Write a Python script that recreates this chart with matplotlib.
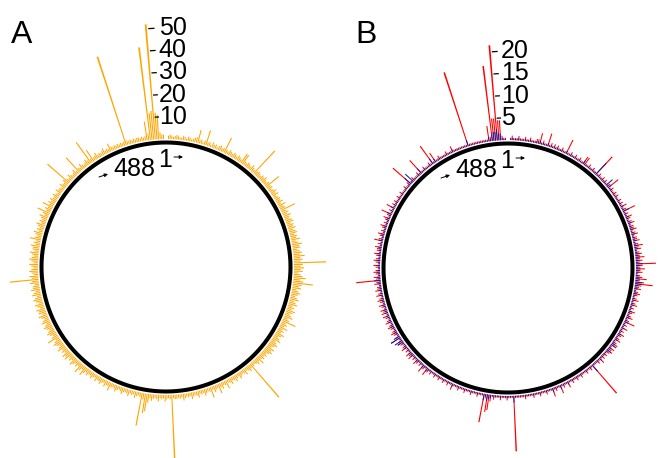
import numpy as np
import matplotlib

matplotlib.use("Agg")
import matplotlib.pyplot as plt

plt.rcParams["font.family"] = ["Liberation Sans", "DejaVu Sans"]

# positions around the circle (1 at the top, clockwise to 488)
n_pos = 488

# panel A: single series (orange)
counts_a = [
    0, 1.5, 2, 1.5, 1, 1.5, 2, 1.5, 1, 1, 2, 1.5, 1, 2, 1.5, 1, 1.5, 2, 2.5, 6,
    1.5, 2, 1, 2, 7, 1.5, 2, 1, 2.5, 1.5, 2, 1, 2, 2.5, 1.5, 2, 7.5, 2, 1.5, 2.5,
    2, 1.5, 2.5, 2, 1.5, 2.5, 2, 1.5, 5, 5, 2, 1.5, 2.5, 2, 1.5, 3, 2, 1.5, 14, 2,
    2.5, 2, 1.5, 2.5, 2, 3, 2, 1.5, 2.5, 7.5, 2, 2.5, 1.5, 2, 3, 2, 3, 1.5, 2, 2.5,
    2, 3, 1.5, 3.5, 2, 2.5, 7, 2, 3, 2, 3.5, 2.5, 2, 3, 3.5, 2, 3, 2.5, 3.5, 2,
    3, 3.5, 2, 3, 2.5, 4, 2, 3, 4.5, 3, 3.5, 2, 3, 4, 3, 5, 3, 4, 3, 14.5,
    4, 3, 4.5, 3, 4, 2, 3, 4, 5.5, 3, 4.5, 9, 4, 3, 4, 2, 3, 4, 3, 2,
    3, 4, 2, 3, 4, 2, 3, 2, 4, 3, 2, 3, 4, 2, 3, 6.5, 2, 3, 2, 4,
    2, 3, 2, 4, 3, 2, 3, 4, 2, 3, 4, 3, 2, 4, 3, 4, 3, 2, 3, 2,
    3, 2, 4, 2, 3, 2, 1.5, 2, 20, 2, 3, 2, 1.5, 3, 2, 1.5, 2, 3, 1.5, 2,
    3, 2, 1.5, 3, 2, 1.5, 4, 2, 1.5, 3, 2, 4.5, 1.5, 2, 3, 1.5, 5, 2, 1.5, 2,
    3, 1.5, 2, 1.5, 3, 2, 1.5, 2, 3, 1.5, 2, 1.5, 2, 3, 1.5, 2, 1.5, 2, 2, 1.5,
    29, 2, 1.5, 2, 3, 1.5, 2, 1.5, 3, 2, 1.5, 2, 3, 2, 4, 8, 9, 3, 15, 2,
    1.5, 2, 3, 1.5, 2, 1.5, 3, 2, 1.5, 2, 3, 2, 1.5, 2, 3, 2, 1.5, 2, 4, 2,
    2, 3, 1.5, 2, 3, 2, 2, 3, 1.5, 2, 3, 2, 2, 3, 2, 3, 4.5, 2, 3, 5,
    2, 3, 2, 3, 4, 2, 3, 2, 4, 3, 4, 2, 3, 2, 4, 3, 2, 3, 4, 3,
    2, 5.5, 3, 2, 3, 4, 3, 2, 3, 4, 3, 2, 4, 3, 2, 3, 4, 2, 3.5, 3,
    4, 2, 3, 4, 2, 3, 4, 3, 2, 4, 3, 2, 4, 3, 3, 2, 4, 3, 13, 3,
    4, 2, 3, 4, 3, 2, 3, 4, 2, 3, 4, 3, 2, 3, 4, 2, 3, 3, 4, 2,
    3, 2, 5, 3, 2, 3, 4, 2, 3, 2, 3, 4, 2, 3, 2, 3, 4, 2, 3, 6,
    2, 3, 2, 5, 2, 3, 2, 3, 2, 2, 3, 2, 1.5, 3, 2, 2, 1.5, 3, 2, 2,
    3, 13, 2, 1.5, 3, 2, 1.5, 2, 3, 1.5, 9, 2, 1.5, 3, 2, 1.5, 2, 3, 2, 11.5,
    2, 6, 1.5, 2, 3, 1.5, 2, 1.5, 2, 3, 1.5, 2, 1.5, 3.8, 2, 1.5, 2, 1.5, 2, 1.5,
    2, 1.5, 2, 42, 2, 1.5, 2, 1.5, 2, 1.5, 2, 2, 1.5, 2, 1.5, 2, 8.5, 3, 42, 12,
    13, 52, 12, 11, 3, 2, 2, 0,
]

# panel B: red series
counts_b_red = [
    0, .5, 1, .5, .5, .5, 1, .5, .5, .5, 1, .5, .5, 1, .5, .5, .5, 1, 1, 2.5,
    .5, 1, .5, .5, 3, .5, 1, .5, 1, .5, 1, .5, .5, 1, .5, .5, 3.5, .5, .5, 1,
    .5, .5, 1, .5, .5, 1, .5, .5, 2, 2, .5, .5, 1, .5, .5, 1, .5, .5, 5.5, .5,
    1, .5, .5, 1, .5, 1, .5, .5, 1, 3, .5, 1, .5, .5, 1, .5, 1, .5, .5, 1,
    .5, 1, .5, 1.5, .5, 1, 3, .5, 1, .5, 1.5, 1, .5, 1, 1.5, .5, 1, 1, 1.5, .5,
    1, 1.5, .5, 1, 1, 1.5, .5, 1, 2, 1, 1.5, .5, 1, 1.5, 1, 2, 1, 1.5, 1, 4.5,
    1.5, 1, 2, 1, 1.5, .5, 1, 1.5, 2.5, 1, 2, 4, 1.5, 1, 1.5, .5, 1, 1.5, 1, .5,
    1, 1.5, .5, 1, 1.5, .5, 1, .5, 1.5, 1, .5, 1, 1.5, .5, 1, 2.5, .5, 1, .5, 1.5,
    .5, 1, .5, 1.5, 1, .5, 1, 1.5, .5, 1, 1.5, 1, .5, 1.5, 1, 1.5, 1, .5, 1, .5,
    1, .5, 1.5, .5, 1, .5, .5, .5, 8.5, .5, 1, .5, .5, 1, .5, .5, .5, 1, .5, .5,
    1, .5, .5, 1, .5, .5, 1.5, .5, .5, 1, .5, 2, .5, .5, 1, .5, 2, .5, .5, .5,
    1, .5, .5, .5, 1, .5, .5, .5, 1, .5, .5, .5, .5, 1, .5, .5, .5, .5, .5, .5,
    12.5, .5, .5, .5, 1, .5, .5, .5, 1, .5, .5, .5, 1, .5, 1.5, 3.5, 4, 1, 6.5, .5,
    .5, .5, 1, .5, .5, .5, 1, .5, .5, .5, 1, .5, .5, .5, 1, .5, .5, .5, 1.5, .5,
    .5, 1, .5, .5, 1, .5, .5, 1, .5, .5, 1, .5, .5, 1, .5, 1, 2, .5, 1, 2,
    .5, 1, .5, 1, 1.5, .5, 1, .5, 1.5, 1, 1.5, .5, 1, .5, 1.5, 1, .5, 1, 1.5, 1,
    .5, 2.5, 1, .5, 1, 1.5, 1, .5, 1, 1.5, 1, .5, 1.5, 1, .5, 1, 1.5, .5, 1.5, 1,
    1.5, .5, 1, 1.5, .5, 1, 1.5, 1, .5, 1.5, 1, .5, 1.5, 1, 1, .5, 1.5, 1, 5.5, 1,
    1.5, .5, 1, 1.5, 1, .5, 1, 1.5, .5, 1, 1.5, 1, .5, 1, 1.5, .5, 1, 1, 1.5, .5,
    1, .5, 2, 1, .5, 1, 1.5, .5, 1, .5, 1, 1.5, .5, 1, .5, 1, 1.5, .5, 1, 2.5,
    .5, 1, .5, 2, .5, 1, .5, 1, .5, .5, 1, .5, .5, 1, .5, .5, .5, 1, .5, .5,
    1, 5.5, .5, .5, 1, .5, .5, .5, 1, .5, 4, .5, .5, 1, .5, .5, .5, 1, .5, 5,
    .5, 2.5, .5, .5, 1, .5, .5, .5, .5, 1, .5, .5, .5, 1.5, .5, .5, .5, .5, .5, .5,
    .5, .5, .5, 17.5, .5, .5, .5, .5, .5, .5, .5, .5, .5, .5, .5, .5, 3.5, 1, 17, 5,
    5, 21.5, 4.5, 4.5, 1, .5, .5, 0,
]

# panel B: blue series
counts_b_blue = [
    0, .3, .5, .3, .3, .3, .5, .3, .3, .3, .5, .3, .3, .5, .3, .3, .3, .5, .5, .8,
    .3, .5, .3, .3, .8, .3, .5, .3, .5, .3, .5, .3, .3, .5, .3, .3, .8, .3, .3, .5,
    .3, .3, .5, .3, .3, .5, .3, .3, 1, .5, .3, .3, .5, .3, .3, .5, .3, .5, 3.5, .3,
    .5, .3, .3, .5, .3, .5, .3, 2, .5, 1, .3, .5, .3, .3, .5, .3, .5, .3, .3, .5,
    .3, .5, .3, .8, .3, .5, 1.5, .3, .5, .3, .8, .5, .3, .5, .8, .3, .5, .5, .8, .3,
    .5, .8, .3, .5, .5, .8, .3, .5, 1, .5, .8, .3, .5, .8, .5, 1, .5, .8, .5, 1.6,
    .8, .5, 1, .5, .8, .3, .5, .8, 1, .5, 1.5, 1.5, .8, .5, .8, .3, .5, .8, .5, .3,
    .5, .8, .3, .5, .8, .3, .5, .3, .8, .5, .3, .5, .8, .3, .5, 1, .3, .5, .3, .8,
    .3, .5, .3, .8, .5, .3, .5, .8, .3, .5, .8, 1.5, .3, .8, .5, 1.2, .5, .3, .5, .3,
    .5, .3, .8, .3, .5, .3, .3, .3, 2, .3, .5, .3, .3, .5, .3, .3, .3, .5, .3, .3,
    .5, .3, .3, .5, .3, .3, .8, .3, .3, .5, .3, 1, .3, .3, .5, .3, 1, .3, .3, .3,
    .5, .3, .3, .3, .5, .3, .3, .3, .5, .3, .3, .3, .3, .5, .3, .3, .3, .3, .3, .3,
    1.5, .3, .3, .3, .5, .3, .3, .3, .5, .3, .3, .3, .5, .3, .8, 1, 1.5, .5, 1.5, .3,
    .3, .3, .5, .3, .3, .3, .5, .3, .3, .3, .5, .3, .3, .3, .5, .3, .3, .3, .8, .3,
    .3, .5, .3, .3, .5, .3, .3, .5, .3, .3, .5, .3, .3, .5, .3, .5, 1, .3, .5, 1,
    .3, .5, .3, .5, .8, .3, .5, .3, .8, .5, .8, .3, .5, .3, .8, .5, .3, .5, 1.5, 2,
    .5, 2.5, 1.5, .3, .5, .8, .5, .3, .5, .8, .5, .3, .8, .5, .3, .5, .8, .3, .8, .5,
    .8, .3, .5, .8, .3, .5, .8, .5, .3, .8, .5, .3, .8, .5, .5, .3, .8, .5, 1.5, .5,
    .8, .3, .5, .8, .5, .3, .5, .8, .3, .5, .8, .5, .3, .5, .8, .3, .5, .5, .8, .3,
    .5, .3, 1, .5, .3, .5, .8, .3, .5, .3, .5, .8, .3, .5, .3, .5, .8, .3, .5, 1.2,
    .3, .5, .3, 1, .3, .5, .3, .5, .3, .3, .5, .3, .3, .5, .3, .3, .3, .5, .3, .3,
    .5, 2, .5, 2.5, .5, .3, .3, .3, .5, .3, 1.5, .3, .3, .5, .3, .3, .3, .5, .3, 1.5,
    .3, 1, .3, .3, .5, .3, .3, .3, .3, .5, .3, .3, .3, .8, .3, .3, .3, .3, .3, .3,
    .3, .3, .3, 1.5, .3, .3, .3, .3, .3, .3, .3, .3, .3, .3, .3, .3, 1, .5, 1.5, 2,
    2, 2.5, 1.5, 1.5, .5, .3, .3, 0,
]

ticks_a = [10, 20, 30, 40, 50]
ticks_b = [5, 10, 15, 20]


def circ_panel(fig, rect, series, colors, rlim, ring_r, ticks, letter, letter_xy):
    """Draw one circular bar panel on a polar axes

    Args:
        fig: figure to draw on
        rect (list): axes rectangle in figure fraction
        series (list): list of value lists, drawn in order
        colors (list): colour for each series
        rlim (tuple): radial limits (inner origin, outer)
        ring_r (float): radius of the black ring
        ticks (list): values shown on the scale
        letter (str): panel letter
        letter_xy (tuple): letter position in figure fraction
    """
    ax = fig.add_axes(rect, projection="polar")
    ax.set_theta_zero_location("N")
    ax.set_theta_direction(-1)
    ax.set_ylim(*rlim)
    ax.set_axis_off()
    ax.patch.set_visible(False)

    step = 2 * np.pi / n_pos
    theta = (np.arange(n_pos) + 0.5) * step
    for vals, col in zip(series, colors):
        ax.bar(theta, vals, width=step * 0.6, bottom=0, color=col,
               linewidth=0, align="center")

    # black ring
    t = np.linspace(0, 2 * np.pi, 720)
    ax.plot(t, np.full_like(t, ring_r), color="black", lw=2.9,
            solid_capstyle="butt")

    # scale: small dashes plus labels
    for v in ticks:
        ax.plot(np.radians([-4.1, -2.9]), [v, v], color="black", lw=0.9)
        ax.annotate(str(v), xy=(0, v), xytext=(-5.2, 0),
                    textcoords="offset points", ha="left", va="center",
                    fontsize=18)

    # start / end markers
    ax.text(0.499, 0.714, "1", transform=ax.transAxes, ha="center",
            va="center", fontsize=18)
    ax.text(0.436, 0.696, "488", transform=ax.transAxes, ha="center",
            va="center", fontsize=18)
    arrow = dict(arrowstyle="-|>", color="black", lw=0.7,
                 mutation_scale=5, shrinkA=0, shrinkB=0)
    ax.annotate("", xy=(0.534, 0.72), xytext=(0.516, 0.72),
                xycoords="axes fraction", arrowprops=arrow)
    ax.annotate("", xy=(0.384, 0.686), xytext=(0.366, 0.680),
                xycoords="axes fraction", arrowprops=arrow)

    fig.text(letter_xy[0], letter_xy[1], letter, fontsize=23,
             ha="left", va="baseline")
    return ax


if __name__ == "__main__":
    fig = plt.figure(figsize=(6.59, 4.58), dpi=100)
    fw, fh = 659, 458
    size = 500  # px, polar axes box

    # panel A: 2.22 px per unit, bars start 128 px from the centre
    k_a = 2.22
    rlim_a = (-128 / k_a, -128 / k_a + size / 2 / k_a)
    circ_panel(fig, [(166 - size / 2) / fw, (fh - 267 - size / 2) / fh,
                     size / fw, size / fh],
               [counts_a], ["#FFA500"], rlim_a, -3.5 / k_a, ticks_a,
               "A", (11 / fw, 1 - 43 / fh))

    # panel B: 4.44 px per unit
    k_b = 4.44
    rlim_b = (-128 / k_b, -128 / k_b + size / 2 / k_b)
    circ_panel(fig, [(508 - size / 2) / fw, (fh - 268 - size / 2) / fh,
                     size / fw, size / fh],
               [counts_b_red, counts_b_blue], ["#FF0000", "#1A1AA6"],
               rlim_b, -3.5 / k_b, ticks_b, "B", (355 / fw, 1 - 43 / fh))

    fig.savefig("out.png", dpi=100)
